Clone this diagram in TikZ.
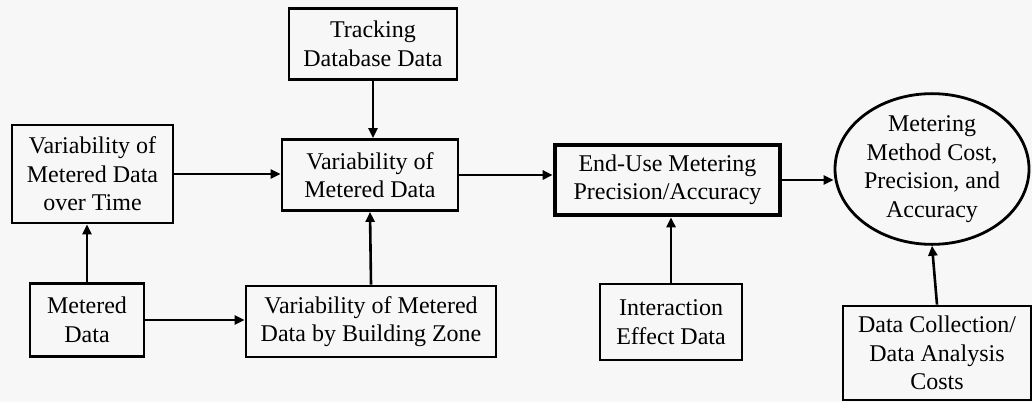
\documentclass[tikz,border=0pt]{standalone}
\usepackage{fontspec}
\setmainfont{Liberation Serif}
\usetikzlibrary{arrows.meta,shapes.geometric,calc}
\definecolor{paper}{RGB}{247,247,247}
\tikzset{
  box/.style={draw, line width=2.8pt, rectangle, align=center, inner sep=0pt,
              font=\rmfamily\fontsize{24}{28.5}\selectfont},
  mainbox/.style={box, line width=4.6pt},
  goal/.style={draw, line width=2.8pt, ellipse, align=center, inner sep=0pt,
               font=\rmfamily\fontsize{24}{28.5}\selectfont},
  flow/.style={line width=2.6pt, -{Triangle[length=10pt,width=9pt]}},
}
\begin{document}
\begin{tikzpicture}[x=1pt,y=-1pt]
  \fill[paper] (0,0) rectangle (1032,402);
  \useasboundingbox (0,0) rectangle (1032,402);

  % input and intermediate boxes
  \node[box, minimum width=168pt, minimum height=71pt] (track) at (373,44)
       {Tracking\\Database Data};
  \node[box, minimum width=161pt, minimum height=98pt] (time) at (92.5,174)
       {Variability of\\Metered Data\\over Time};
  \node[box, minimum width=176pt, minimum height=71pt] (var) at (370,175)
       {Variability of\\Metered Data};
  \node[box, minimum width=114pt, minimum height=73pt] (met) at (87,320)
       {Metered\\Data};
  \node[box, minimum width=250pt, minimum height=71pt] (zone) at (371,321.5)
       {Variability of Metered\\Data by Building Zone};
  \node[mainbox, minimum width=225pt, minimum height=70pt] (enduse) at (667.5,180)
       {End-Use Metering\\Precision/Accuracy};
  \node[box, minimum width=142pt, minimum height=76pt] (inter) at (671,322)
       {Interaction\\Effect Data};
  \node[goal, minimum width=194pt, minimum height=148pt] (ell) at (932,169)
       {Metering\\Method Cost,\\Precision, and\\Accuracy};
  \node[box, minimum width=188pt, minimum height=94pt] (cost) at (937,353)
       {Data Collection/\\Data Analysis\\Costs};

  % connectors
  \draw[flow] (track.south) -- (var.north -| track.south);
  \draw[flow] (time.east) -- (time.east -| var.west);
  \draw[flow] (met.north) -- (met.north |- time.south);
  \draw[flow] (met.east) -- (met.east -| zone.west);
  \draw[flow] (zone.north) -- (var.south);
  \draw[flow] (var.east) -- (var.east -| enduse.west);
  \draw[flow] (inter.north) -- (inter.north |- enduse.south);
  \draw[flow] (enduse.east) -- (enduse.east -| ell.west);
  \draw[flow] (cost.north) -- (ell.south);
\end{tikzpicture}
\end{document}
